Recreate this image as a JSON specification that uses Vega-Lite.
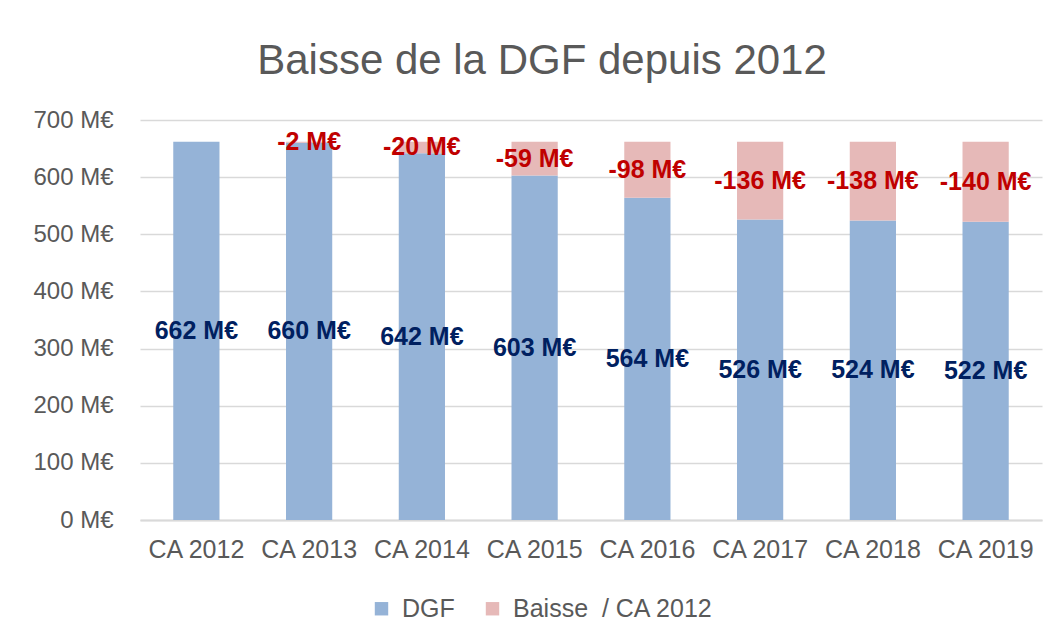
{
  "$schema": "https://vega.github.io/schema/vega-lite/v6.json",
  "autosize": "none",
  "width": 902,
  "height": 400,
  "padding": {"left": 140, "top": 120, "right": 17, "bottom": 121},
  "background": "white",
  "title": {
    "text": "Baisse de la DGF depuis 2012",
    "fontSize": 42,
    "fontWeight": "normal",
    "color": "#595959",
    "anchor": "middle",
    "dx": -49,
    "offset": 25
  },
  "config": {
    "font": "Liberation Sans",
    "view": {"stroke": null}
  },
  "data": {
    "values": [
      {"cat": "CA 2012", "series": "DGF", "ord": 0, "value": 662, "label": "662 M€"},
      {"cat": "CA 2013", "series": "DGF", "ord": 0, "value": 660, "label": "660 M€"},
      {"cat": "CA 2014", "series": "DGF", "ord": 0, "value": 642, "label": "642 M€"},
      {"cat": "CA 2015", "series": "DGF", "ord": 0, "value": 603, "label": "603 M€"},
      {"cat": "CA 2016", "series": "DGF", "ord": 0, "value": 564, "label": "564 M€"},
      {"cat": "CA 2017", "series": "DGF", "ord": 0, "value": 526, "label": "526 M€"},
      {"cat": "CA 2018", "series": "DGF", "ord": 0, "value": 524, "label": "524 M€"},
      {"cat": "CA 2019", "series": "DGF", "ord": 0, "value": 522, "label": "522 M€"},
      {"cat": "CA 2013", "series": "Baisse\u00a0 / CA 2012", "ord": 1, "value": 2, "label": "-2 M€"},
      {"cat": "CA 2014", "series": "Baisse\u00a0 / CA 2012", "ord": 1, "value": 20, "label": "-20 M€"},
      {"cat": "CA 2015", "series": "Baisse\u00a0 / CA 2012", "ord": 1, "value": 59, "label": "-59 M€"},
      {"cat": "CA 2016", "series": "Baisse\u00a0 / CA 2012", "ord": 1, "value": 98, "label": "-98 M€"},
      {"cat": "CA 2017", "series": "Baisse\u00a0 / CA 2012", "ord": 1, "value": 136, "label": "-136 M€"},
      {"cat": "CA 2018", "series": "Baisse\u00a0 / CA 2012", "ord": 1, "value": 138, "label": "-138 M€"},
      {"cat": "CA 2019", "series": "Baisse\u00a0 / CA 2012", "ord": 1, "value": 140, "label": "-140 M€"}
    ]
  },
  "transform": [
    {"stack": "value", "groupby": ["cat"], "sort": [{"field": "ord", "order": "ascending"}], "as": ["v0", "v1"]},
    {"calculate": "(datum.v0 + datum.v1) / 2", "as": "mid"}
  ],
  "encoding": {
    "x": {
      "field": "cat",
      "type": "nominal",
      "sort": null,
      "scale": {"paddingInner": 0.59, "paddingOuter": 0.295},
      "axis": {
        "title": null,
        "labelAngle": 0,
        "labelFontSize": 25,
        "labelColor": "#595959",
        "labelPadding": 17,
        "labelLimit": 0,
        "ticks": false,
        "domainColor": "#D9D9D9",
        "domainWidth": 2
      }
    }
  },
  "layer": [
    {
      "mark": {"type": "bar"},
      "encoding": {
        "y": {
          "field": "v1",
          "type": "quantitative",
          "scale": {"domain": [0, 700], "nice": false},
          "axis": {
            "title": null,
            "values": [0, 100, 200, 300, 400, 500, 600, 700],
            "labelExpr": "datum.value + ' M€'",
            "labelFontSize": 24,
            "labelColor": "#595959",
            "labelPadding": 27,
            "ticks": false,
            "domain": false,
            "gridColor": "#D9D9D9",
            "gridWidth": 1.3
          }
        },
        "y2": {"field": "v0"},
        "color": {
          "field": "series",
          "type": "nominal",
          "sort": ["DGF", "Baisse\u00a0 / CA 2012"],
          "scale": {"domain": ["DGF", "Baisse\u00a0 / CA 2012"], "range": ["#95B3D7", "#E6B9B8"]},
          "legend": {
            "title": null,
            "orient": "none",
            "direction": "horizontal",
            "legendX": 229,
            "legendY": 476,
            "symbolType": "square",
            "symbolSize": 180,
            "symbolStrokeWidth": 0,
            "labelFontSize": 25,
            "labelColor": "#595959",
            "labelOffset": 8,
            "labelLimit": 0,
            "columnPadding": 25
          }
        }
      }
    },
    {
      "mark": {"type": "text", "fontSize": 25, "fontWeight": "bold", "baseline": "middle", "align": "center"},
      "encoding": {
        "y": {"field": "mid", "type": "quantitative"},
        "text": {"field": "label"},
        "color": {
          "condition": {"test": "datum.series === 'DGF'", "value": "#002060"},
          "value": "#C00000"
        }
      }
    }
  ]
}
